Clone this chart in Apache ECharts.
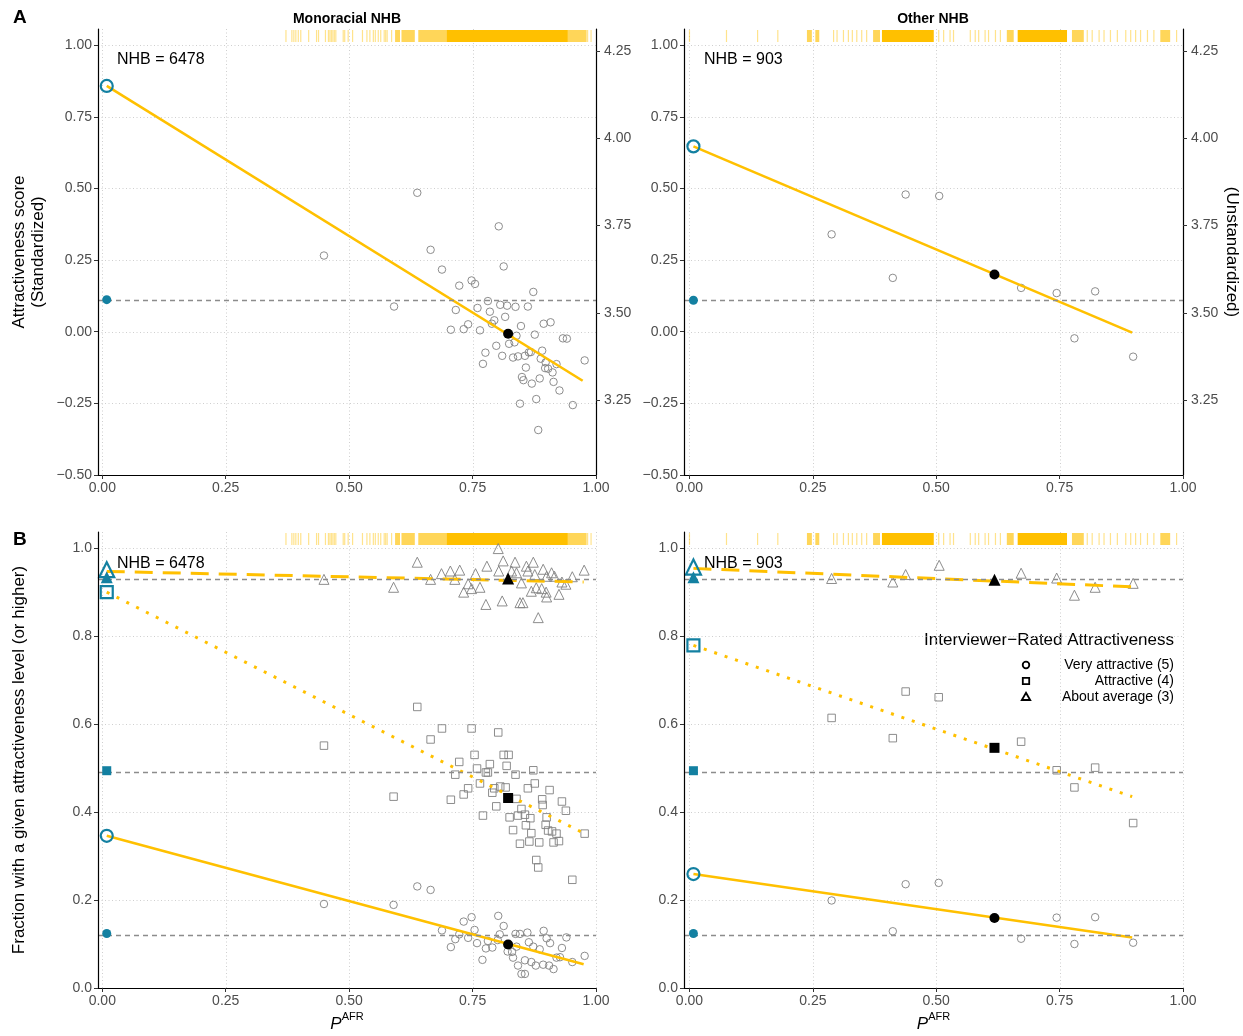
<!DOCTYPE html>
<html>
<head>
<meta charset="utf-8">
<script src="https://cdn.jsdelivr.net/npm/echarts@6/dist/echarts.min.js"></script>
<style>
  html, body { margin: 0; padding: 0; background: #fff; }
  #chart { width: 1243px; height: 1036px; }
</style>
</head>
<body>
<div id="chart"></div>
<script>
// ---- data ----
const panelTitles = ['Monoracial NHB', 'Other NHB']
const panelN = [6478, 903]

const xTicks = [0, 0.25, 0.5, 0.75, 1]
const yTicksScore = [-0.5, -0.25, 0, 0.25, 0.5, 0.75, 1]
const yTicksFrac = [0, 0.2, 0.4, 0.6, 0.8, 1]
const yTicksRaw = [3.25, 3.5, 3.75, 4, 4.25]
// secondary axis: raw = rawMean + rawSd * standardized
const rawMean = 3.4463
const rawSd = 0.8195

// binned scores, panel A
const scoreMono = [[0.449,0.266],[0.638,0.485],[0.803,0.368],[0.665,0.286],[0.813,0.228],[0.688,0.217],[0.748,0.179],[0.755,0.167],[0.723,0.161],[0.873,0.139],[0.591,0.088],[0.716,0.076],[0.760,0.083],[0.781,0.107],[0.785,0.070],[0.806,0.094],[0.820,0.091],[0.837,0.087],[0.862,0.088],[0.816,0.052],[0.794,0.040],[0.789,0.028],[0.741,0.026],[0.706,0.007],[0.732,0.009],[0.765,0.005],[0.848,0.020],[0.894,0.028],[0.908,0.033],[0.839,-0.014],[0.876,-0.010],[0.824,-0.042],[0.835,-0.037],[0.798,-0.049],[0.776,-0.073],[0.810,-0.084],[0.832,-0.090],[0.842,-0.086],[0.856,-0.084],[0.864,-0.072],[0.868,-0.071],[0.891,-0.066],[0.933,-0.023],[0.941,-0.024],[0.977,-0.100],[0.888,-0.094],[0.898,-0.107],[0.920,-0.113],[0.771,-0.112],[0.858,-0.125],[0.897,-0.127],[0.903,-0.129],[0.912,-0.142],[0.850,-0.158],[0.853,-0.169],[0.870,-0.181],[0.886,-0.163],[0.914,-0.175],[0.926,-0.205],[0.879,-0.235],[0.846,-0.251],[0.953,-0.256],[0.883,-0.343]]
const scoreOther = [[0.288,0.340],[0.438,0.479],[0.506,0.474],[0.412,0.188],[0.672,0.153],[0.744,0.135],[0.822,0.141],[0.780,-0.023],[0.899,-0.087]]

// binned fractions, panel B (5 = very attractive, 4 = attractive, 3 = about average)
const frac5Mono = [[0.449,0.191],[0.638,0.231],[0.665,0.223],[0.590,0.189],[0.688,0.131],[0.748,0.161],[0.802,0.164],[0.813,0.141],[0.732,0.151],[0.754,0.132],[0.723,0.122],[0.715,0.111],[0.706,0.093],[0.741,0.114],[0.759,0.102],[0.781,0.107],[0.805,0.122],[0.837,0.123],[0.846,0.123],[0.861,0.126],[0.894,0.130],[0.940,0.115],[0.907,0.102],[0.864,0.104],[0.900,0.113],[0.777,0.090],[0.790,0.092],[0.801,0.109],[0.821,0.083],[0.830,0.082],[0.839,0.094],[0.873,0.094],[0.886,0.088],[0.931,0.091],[0.832,0.069],[0.856,0.063],[0.869,0.059],[0.878,0.051],[0.893,0.053],[0.905,0.051],[0.914,0.043],[0.920,0.069],[0.927,0.070],[0.952,0.059],[0.977,0.073],[0.842,0.051],[0.770,0.064],[0.849,0.032],[0.856,0.032]]
const frac4Mono = [[0.449,0.551],[0.638,0.639],[0.688,0.590],[0.748,0.590],[0.802,0.581],[0.665,0.565],[0.754,0.530],[0.813,0.530],[0.823,0.530],[0.723,0.514],[0.785,0.509],[0.819,0.505],[0.759,0.499],[0.873,0.495],[0.777,0.490],[0.781,0.490],[0.715,0.485],[0.837,0.485],[0.876,0.465],[0.765,0.465],[0.862,0.454],[0.741,0.454],[0.794,0.454],[0.806,0.458],[0.817,0.456],[0.906,0.450],[0.790,0.444],[0.590,0.435],[0.732,0.440],[0.706,0.428],[0.839,0.430],[0.891,0.429],[0.931,0.424],[0.798,0.413],[0.849,0.407],[0.892,0.416],[0.939,0.403],[0.771,0.392],[0.825,0.388],[0.842,0.392],[0.856,0.394],[0.867,0.386],[0.900,0.388],[0.858,0.370],[0.898,0.371],[0.832,0.359],[0.903,0.358],[0.911,0.356],[0.920,0.351],[0.977,0.351],[0.869,0.352],[0.925,0.334],[0.885,0.331],[0.865,0.333],[0.846,0.328],[0.914,0.331],[0.879,0.291],[0.883,0.274],[0.952,0.246]]
const frac3Mono = [[0.449,0.929],[0.590,0.911],[0.638,0.968],[0.665,0.929],[0.802,0.999],[0.687,0.942],[0.705,0.948],[0.724,0.950],[0.714,0.929],[0.756,0.942],[0.779,0.959],[0.741,0.919],[0.748,0.908],[0.732,0.900],[0.765,0.911],[0.777,0.872],[0.810,0.880],[0.803,0.948],[0.812,0.971],[0.836,0.968],[0.829,0.948],[0.839,0.944],[0.859,0.959],[0.873,0.968],[0.862,0.948],[0.876,0.940],[0.893,0.952],[0.910,0.944],[0.916,0.936],[0.900,0.936],[0.849,0.921],[0.879,0.910],[0.890,0.908],[0.899,0.900],[0.869,0.902],[0.925,0.895],[0.900,0.889],[0.846,0.876],[0.852,0.876],[0.883,0.842],[0.952,0.935],[0.976,0.950],[0.931,0.923],[0.939,0.918]]
const frac5Other = [[0.288,0.199],[0.438,0.236],[0.505,0.239],[0.412,0.129],[0.672,0.112],[0.744,0.160],[0.822,0.161],[0.780,0.100],[0.899,0.103]]
const frac4Other = [[0.288,0.614],[0.438,0.674],[0.505,0.661],[0.412,0.568],[0.672,0.560],[0.744,0.495],[0.822,0.501],[0.780,0.456],[0.899,0.375]]
const frac3Other = [[0.288,0.931],[0.438,0.940],[0.506,0.961],[0.412,0.923],[0.672,0.943],[0.744,0.932],[0.822,0.911],[0.780,0.893],[0.899,0.920]]

// group means (black markers), per panel [mono, other]
const meanX = [0.822, 0.618]
const meanScore = [-0.007, 0.200]
const meanFrac5 = [0.099, 0.159]
const meanFrac4 = [0.432, 0.546]
const meanFrac3 = [0.931, 0.928]

// comparison group at P = 0 (blue): open = fitted intercept, filled = observed level
const refX = [0.009, 0.008]
const interceptScore = [0.858, 0.647]
const interceptFrac5 = [0.346, 0.259]
const interceptFrac4 = [0.900, 0.779]
const interceptFrac3 = [0.951, 0.957]
const refScore = [0.112, 0.110]
const refFrac5 = [0.124, 0.124]
const refFrac4 = [0.494, 0.494]
const refFrac3 = [0.934, 0.934]

// fitted lines [[x0, y0], [x1, y1]]
const fitScore = [[[0.009,0.858],[0.973,-0.171]], [[0.008,0.647],[0.897,-0.003]]]
const fitFrac5 = [[[0.009,0.346],[0.975,0.054]], [[0.008,0.259],[0.897,0.115]]]
const fitFrac4 = [[[0.009,0.900],[0.977,0.351]], [[0.008,0.779],[0.897,0.435]]]
const fitFrac3 = [[[0.009,0.947],[0.975,0.923]], [[0.008,0.954],[0.897,0.912]]]

// rug of individual P_AFR values
const rugTicksMono = [0.372,0.384,0.388,0.392,0.397,0.402,0.418,0.434,0.438,0.452,0.458,0.461,0.464,0.467,0.470,0.473,0.488,0.491,0.498,0.507,0.527,0.536,0.542,0.549,0.553,0.559,0.564,0.571,0.574,0.577,0.586,0.983,0.990]
const rugDenseMono = [[0.593,0.603],[0.606,0.633],[0.640,0.697],[0.943,0.981]]
const rugSolidMono = [[0.697,0.943]]
const rugTicksOther = [0.0,0.075,0.138,0.179,0.292,0.299,0.312,0.322,0.330,0.339,0.349,0.359,0.505,0.515,0.528,0.535,0.569,0.579,0.586,0.599,0.606,0.620,0.630,0.806,0.816,0.830,0.840,0.853,0.867,0.884,0.894,0.904,0.914,0.928,0.941,0.987]
const rugDenseOther = [[0.238,0.248],[0.255,0.263],[0.372,0.386],[0.643,0.657],[0.775,0.799],[0.954,0.974]]
const rugSolidOther = [[0.390,0.495],[0.665,0.765]]

// ---- chart ----
const FONT = '"Liberation Sans", Arial, Helvetica, sans-serif'
const YELLOW = '#FFC000'
const BLUE = '#1380A1'
const GRAYPT = '#808080'

const scorePts = [scoreMono, scoreOther]
const fracPts = [[frac5Mono, frac4Mono, frac3Mono], [frac5Other, frac4Other, frac3Other]]
const meanFrac = [meanFrac5, meanFrac4, meanFrac3]
const interceptFrac = [interceptFrac5, interceptFrac4, interceptFrac3]
const refFrac = [refFrac5, refFrac4, refFrac3]
const fitFrac = [fitFrac5, fitFrac4, fitFrac3]
const rugTicks = [rugTicksMono, rugTicksOther]
const rugDense = [rugDenseMono, rugDenseOther]
const rugSolid = [rugSolidMono, rugSolidOther]

const levelSymbol = ['circle', 'rect', 'triangle']
const levelLine = ['solid', [3, 8], [18, 10]]
const grayPtSize = [7.5, 7.5, 10]
const meanSize = [10, 10, 12]
const openSize = [12, 12, 15]
const fillSize = [9, 9, 12]

const xMins = [-0.0087, -0.0111]
const yIdxOfGrid = [0, 2, 4, 5]

function fmt(d) {
  return function(v) { return (v < 0 ? '\u2212' : '') + Math.abs(v).toFixed(d) }
}

const chart = echarts.init(document.getElementById('chart'))

const grids = [
  { left: 98, top: 29, width: 498, height: 446, outerBoundsMode: 'none' },
  { left: 684, top: 29, width: 499, height: 446, outerBoundsMode: 'none' },
  { left: 98, top: 532, width: 498, height: 456, outerBoundsMode: 'none' },
  { left: 684, top: 532, width: 499, height: 456, outerBoundsMode: 'none' }
]

const axisLine = { show: true, onZero: false, lineStyle: { color: '#000', width: 1.2 } }
const tickStyle = { color: '#333', width: 1 }
const labelStyle = { color: '#4d4d4d', fontSize: 14, fontFamily: FONT }

const xAxes = [0, 1, 2, 3].map(g => ({
  type: 'value', gridIndex: g, min: xMins[g % 2], max: 1, z: 10,
  axisLine: axisLine,
  axisTick: { show: true, customValues: xTicks, length: 4, lineStyle: tickStyle },
  axisLabel: Object.assign({ customValues: xTicks, formatter: fmt(2), margin: 6 }, labelStyle),
  splitLine: { show: false },
  name: g >= 2 ? '{p|P}{s|AFR}' : '',
  nameLocation: 'middle', nameGap: 23,
  nameTextStyle: {
    rich: {
      p: { fontSize: 17, fontStyle: 'italic', fontFamily: FONT, color: '#000', lineHeight: 22, verticalAlign: 'bottom' },
      s: { fontSize: 11, fontFamily: FONT, color: '#000', lineHeight: 22, verticalAlign: 'top' }
    }
  }
}))

function leftY(g, min, max, ticks, digits, name, gap) {
  return {
    type: 'value', gridIndex: g, position: 'left', min: min, max: max, z: 10,
    axisLine: axisLine,
    axisTick: { show: true, customValues: ticks, length: 4, lineStyle: tickStyle },
    axisLabel: Object.assign({ customValues: ticks, formatter: fmt(digits), margin: 6 }, labelStyle),
    splitLine: { show: false },
    name: name, nameLocation: 'middle', nameGap: gap, nameRotate: 90,
    nameTextStyle: { fontSize: 17, fontFamily: FONT, color: '#000', lineHeight: 19, align: 'center' }
  }
}
function rightY(g, name) {
  return {
    type: 'value', gridIndex: g, position: 'right', z: 10,
    min: rawMean + rawSd * -0.5, max: rawMean + rawSd * 1.0567,
    axisLine: axisLine,
    axisTick: { show: true, customValues: yTicksRaw, length: 4, lineStyle: tickStyle },
    axisLabel: Object.assign({ customValues: yTicksRaw, formatter: fmt(2), margin: 8 }, labelStyle),
    splitLine: { show: false },
    name: name, nameLocation: 'middle', nameGap: 40, nameRotate: -90,
    nameTextStyle: { fontSize: 17, fontFamily: FONT, color: '#000' }
  }
}

const yAxes = [
  leftY(0, -0.5, 1.0567, yTicksScore, 2, 'Attractiveness score\n(Standardized)', 50),
  rightY(0, ''),
  leftY(1, -0.5, 1.0567, yTicksScore, 2, '', 50),
  rightY(1, '(Unstandardized)'),
  leftY(2, 0, 1.0367, yTicksFrac, 1, 'Fraction with a given attractiveness level (or higher)', 69),
  leftY(3, 0, 1.0367, yTicksFrac, 1, '', 50)
]

const series = []
function add(s) { series.push(Object.assign({ animation: false, silent: true }, s)) }

// dotted panel grid
function addGridLines(g, yTicks) {
  const yi = yIdxOfGrid[g]
  add({
    type: 'custom', xAxisIndex: g, yAxisIndex: yi, z: 1, clip: false,
    data: xTicks.map(v => [v, yTicks[0]]),
    renderItem: (params, api) => {
      const cs = params.coordSys
      const x = Math.round(api.coord([api.value(0), api.value(1)])[0]) + 0.5
      return { type: 'line', shape: { x1: x, y1: cs.y, x2: x, y2: cs.y + cs.height },
        style: { stroke: '#cfcfcf', lineWidth: 1, lineDash: [1, 2.5] } }
    }
  })
  add({
    type: 'custom', xAxisIndex: g, yAxisIndex: yi, z: 1, clip: false,
    data: yTicks.map(v => [0.5, v]),
    renderItem: (params, api) => {
      const cs = params.coordSys
      const y = Math.round(api.coord([api.value(0), api.value(1)])[1]) + 0.5
      return { type: 'line', shape: { x1: cs.x, y1: y, x2: cs.x + cs.width, y2: y },
        style: { stroke: '#cfcfcf', lineWidth: 1, lineDash: [1, 2.5] } }
    }
  })
}

// rug along the top of a panel
function addRug(g, spans, opacity) {
  add({
    type: 'custom', xAxisIndex: g, yAxisIndex: yIdxOfGrid[g], z: 2, clip: false,
    data: spans,
    renderItem: (params, api) => {
      const cs = params.coordSys
      const x0 = api.coord([api.value(0), 0.5])[0]
      const x1 = api.coord([api.value(1), 0.5])[0]
      const w = Math.max(x1 - x0, 1.2)
      return { type: 'rect', shape: { x: x1 - x0 < 1.2 ? x0 - 0.6 : x0, y: cs.y + 1, width: w, height: 12 },
        style: { fill: YELLOW, opacity: opacity } }
    }
  })
}

function refLine(v) {
  return {
    silent: true, symbol: ['none', 'none'], label: { show: false }, animation: false,
    lineStyle: { color: '#8c8c8c', type: [5, 4], width: 1.3 },
    data: [{ yAxis: v }]
  }
}

for (let p = 0; p < 2; p++) {
  const gTop = p
  const gBot = 2 + p
  ;[gTop, gBot].forEach(g => {
    addGridLines(g, g < 2 ? yTicksScore : yTicksFrac)
    addRug(g, rugTicks[p].map(v => [v, v]), 0.45)
    addRug(g, rugDense[p], 0.65)
    addRug(g, rugSolid[p], 1)
  })

  // panel A
  const yT = yIdxOfGrid[gTop]
  add({
    type: 'scatter', xAxisIndex: gTop, yAxisIndex: yT, z: 3,
    data: scorePts[p], symbol: 'circle', symbolSize: 7.5,
    itemStyle: { color: 'rgba(0,0,0,0)', borderColor: GRAYPT, borderWidth: 0.9, opacity: 1 },
    markLine: refLine(refScore[p])
  })
  add({
    type: 'line', xAxisIndex: gTop, yAxisIndex: yT, z: 4, data: fitScore[p],
    showSymbol: false, symbol: 'none', lineStyle: { color: YELLOW, width: 2.6 }
  })
  add({
    type: 'scatter', xAxisIndex: gTop, yAxisIndex: yT, z: 5,
    data: [[meanX[p], meanScore[p]]], symbol: 'circle', symbolSize: 10,
    itemStyle: { color: '#000', opacity: 1 }
  })
  add({
    type: 'scatter', xAxisIndex: gTop, yAxisIndex: yT, z: 6,
    data: [[refX[p], interceptScore[p]]], symbol: 'circle', symbolSize: 12,
    itemStyle: { color: 'rgba(0,0,0,0)', borderColor: BLUE, borderWidth: 2.2, opacity: 1 }
  })
  add({
    type: 'scatter', xAxisIndex: gTop, yAxisIndex: yT, z: 6,
    data: [[refX[p], refScore[p]]], symbol: 'circle', symbolSize: 9,
    itemStyle: { color: BLUE, opacity: 1 }
  })

  // panel B
  const yB = yIdxOfGrid[gBot]
  for (let k = 0; k < 3; k++) {
    add({
      type: 'scatter', xAxisIndex: gBot, yAxisIndex: yB, z: 3,
      data: fracPts[p][k], symbol: levelSymbol[k], symbolSize: grayPtSize[k],
      itemStyle: { color: 'rgba(0,0,0,0)', borderColor: GRAYPT, borderWidth: 0.9, opacity: 1 },
      markLine: refLine(refFrac[k][p])
    })
    add({
      type: 'line', xAxisIndex: gBot, yAxisIndex: yB, z: 4, data: fitFrac[k][p],
      showSymbol: false, symbol: 'none',
      lineStyle: { color: YELLOW, width: k === 0 ? 2.6 : 3, type: levelLine[k], cap: 'butt' }
    })
    add({
      type: 'scatter', xAxisIndex: gBot, yAxisIndex: yB, z: 5,
      data: [[meanX[p], meanFrac[k][p]]], symbol: levelSymbol[k], symbolSize: meanSize[k],
      itemStyle: { color: '#000', opacity: 1 }
    })
    add({
      type: 'scatter', xAxisIndex: gBot, yAxisIndex: yB, z: 6,
      data: [[refX[p], interceptFrac[k][p]]], symbol: levelSymbol[k], symbolSize: openSize[k],
      itemStyle: { color: 'rgba(0,0,0,0)', borderColor: BLUE, borderWidth: 2.2, opacity: 1 }
    })
    add({
      type: 'scatter', xAxisIndex: gBot, yAxisIndex: yB, z: 6,
      data: [[refX[p], refFrac[k][p]]], symbol: levelSymbol[k], symbolSize: fillSize[k],
      itemStyle: { color: BLUE, opacity: 1 }
    })
  }
}

// annotations, panel titles and the shape key
const txt = (x, y, text, o) => ({
  type: 'text', x: x, y: y, silent: true,
  style: Object.assign({ text: text, fill: '#000', font: '16px ' + FONT, verticalAlign: 'middle', align: 'left' }, o || {})
})
const keyLabels = ['Very attractive (5)', 'Attractive (4)', 'About average (3)']
const keyY = [665, 681, 697]

const graphic = [
  txt(13, 18, 'A', { font: 'bold 19px ' + FONT }),
  txt(13, 540, 'B', { font: 'bold 19px ' + FONT }),
  txt(347, 19, panelTitles[0], { font: 'bold 14px ' + FONT, align: 'center' }),
  txt(933, 19, panelTitles[1], { font: 'bold 14px ' + FONT, align: 'center' }),
  txt(117, 60, 'NHB = ' + panelN[0]),
  txt(704, 60, 'NHB = ' + panelN[1]),
  txt(117, 564, 'NHB = ' + panelN[0]),
  txt(704, 564, 'NHB = ' + panelN[1]),
  txt(1174, 640, 'Interviewer\u2212Rated Attractiveness', { font: '17px ' + FONT, align: 'right' }),
  { type: 'circle', silent: true, shape: { cx: 1026, cy: keyY[0], r: 3.3 }, style: { fill: 'none', stroke: '#000', lineWidth: 1.8 } },
  { type: 'rect', silent: true, shape: { x: 1022.8, y: keyY[1] - 3.2, width: 6.4, height: 6.4 }, style: { fill: 'none', stroke: '#000', lineWidth: 1.8 } },
  { type: 'polygon', silent: true, shape: { points: [[1026, keyY[2] - 4.2], [1030.2, keyY[2] + 3], [1021.8, keyY[2] + 3]] }, style: { fill: 'none', stroke: '#000', lineWidth: 1.8 } }
].concat(keyLabels.map((t, i) => txt(1174, keyY[i], t, { font: '14px ' + FONT, align: 'right' })))

chart.setOption({
  backgroundColor: '#fff',
  animation: false,
  textStyle: { fontFamily: FONT },
  grid: grids,
  xAxis: xAxes,
  yAxis: yAxes,
  series: series,
  graphic: graphic
})
</script>
</body>
</html>
